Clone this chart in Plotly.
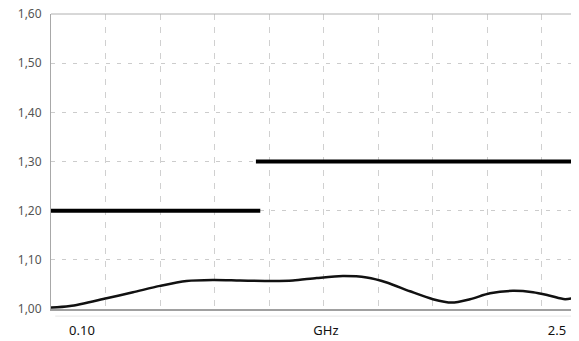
import plotly.graph_objects as go

# Curve data (frequency in GHz, VSWR)
freq_ghz = [0.10, 0.103, 0.187, 0.355, 0.476, 0.60, 0.722, 0.843, 0.967, 1.118, 1.21,
            1.319, 1.439, 1.548, 1.64, 1.747, 1.852, 1.938, 2.022, 2.114, 2.219,
            2.311, 2.389, 2.458, 2.517, 2.522]
vswr = [1.003, 1.003, 1.006, 1.022, 1.034, 1.047, 1.057, 1.059, 1.058, 1.057, 1.058,
        1.063, 1.067, 1.064, 1.054, 1.036, 1.020, 1.013, 1.020, 1.032, 1.037,
        1.034, 1.027, 1.020, 1.025, 1.026]

# Limit (spec) lines
limit_low_x = [0.10, 1.06]
limit_low_y = [1.20, 1.20]
limit_high_x = [1.04, 2.522]
limit_high_y = [1.30, 1.30]

# Axis labels
x_tick_pos = [0.242, 1.361, 2.421]
x_tick_text = ["0.10", "GHz", "2.5"]
y_ticks = [1.0, 1.1, 1.2, 1.3, 1.4, 1.5, 1.6]

fig = go.Figure()
fig.add_trace(go.Scatter(x=limit_low_x, y=limit_low_y, mode="lines",
                         line=dict(color="black", width=4), hoverinfo="skip"))
fig.add_trace(go.Scatter(x=limit_high_x, y=limit_high_y, mode="lines",
                         line=dict(color="black", width=4), hoverinfo="skip"))
fig.add_trace(go.Scatter(x=freq_ghz, y=vswr, mode="lines",
                         line=dict(color="#111111", width=2.5, shape="spline", smoothing=0.8)))

# page body has an 8px margin, so the figure is sized/offset to compensate
fig.update_layout(
    width=571, height=333,
    margin=dict(l=43, r=0, t=6, b=32),
    paper_bgcolor="white", plot_bgcolor="white",
    showlegend=False,
    separators=",.",
    font=dict(family="Noto Sans, DejaVu Sans, sans-serif"),
    xaxis=dict(
        range=[0.10, 2.522], automargin=False,
        showgrid=False, zeroline=False,
        showline=True, linecolor="#a0a0a0", linewidth=2,
        tickvals=x_tick_pos, ticktext=x_tick_text,
        ticks="", ticklabelstandoff=8,
        tickfont=dict(size=13, color="#111111"),
        minor=dict(tick0=0.10, dtick=0.25, showgrid=True, gridcolor="#d0d0d0",
                   griddash="6px,7px", gridwidth=1, ticks=""),
    ),
    yaxis=dict(
        range=[1.0, 1.6], automargin=False,
        tickvals=y_ticks, tickformat=".2f",
        showgrid=True, gridcolor="#cccccc", griddash="4px,7px", gridwidth=1,
        zeroline=False,
        showline=True, linecolor="#a8a8a8", linewidth=1,
        ticks="", ticklabelstandoff=6, ticklabeloverflow="allow",
        tickfont=dict(size=12, color="#555555"),
    ),
    shapes=[
        dict(type="line", xref="paper", yref="paper", x0=0, x1=1, y0=1, y1=1,
             line=dict(color="#b0b0b0", width=1)),
        dict(type="line", xref="paper", yref="paper", x0=0.008, x1=1, y0=-0.024, y1=-0.024,
             line=dict(color="#e6e6e6", width=1)),
    ],
)

fig.write_html("out.html")
